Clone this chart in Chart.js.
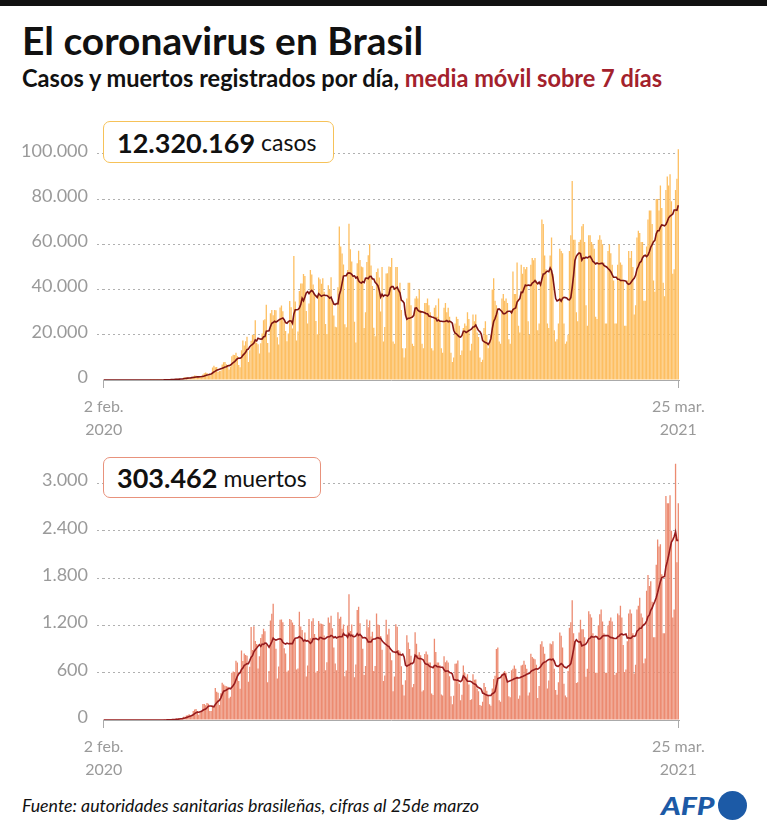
<!DOCTYPE html>
<html lang="es">
<head>
<meta charset="utf-8">
<title>El coronavirus en Brasil</title>
<script src="https://cdn.jsdelivr.net/npm/chart.js@4.4.0/dist/chart.umd.min.js"></script>
<style>
  html, body { margin: 0; padding: 0; background: #fff; }
  body { width: 767px; height: 827px; position: relative; overflow: hidden; font-family: Lato, "Open Sans", sans-serif; }
  .topbar { position: absolute; left: 0; top: 0; width: 767px; height: 6px; background: #111; }
  .fit { position: absolute; white-space: nowrap; transform-origin: 0 0; line-height: 1; }
  #title { left: 22px; top: 21px; font-size: 39px; font-weight: 700; color: #111; }
  #subtitle { left: 22px; top: 66px; font-size: 24px; font-weight: 700; color: #111; }
  #subtitle span { color: #a3212c; }
  #fuente { left: 22px; top: 796px; font-size: 18px; font-style: italic; color: #111; }
  .wrap { position: absolute; left: 0; width: 767px; }
  .total { position: absolute; left: 103px; background: #fff; border-radius: 7px; box-sizing: border-box;
           z-index: 2; display: flex; align-items: center; padding-left: 13px; white-space: nowrap; color: #111; font-size: 23px; }
  .total b { font-size: 27px; margin-right: 6px; }
  #totCasos { top: 121px; width: 231px; height: 42px; border: 1.5px solid #f6c259; }
  #totMuertos { top: 457px; width: 218px; height: 41px; border: 1.5px solid #e8927c; }
  #afp { left: 661px; top: 794px; font-size: 24px; font-weight: 900; font-style: italic; color: #1c5aa6; }
  #afpdot { position: absolute; left: 718px; top: 791px; width: 29px; height: 29px; border-radius: 50%; background: #1c5aa6; }
</style>
</head>
<body>
<div class="topbar"></div>
<div id="title" class="fit">El coronavirus en Brasil</div>
<div id="subtitle" class="fit">Casos y muertos registrados por día, <span>media móvil sobre 7 días</span></div>

<div class="wrap" style="top:125px;height:320px"><canvas id="casosChart"></canvas></div>
<div class="wrap" style="top:440px;height:345px"><canvas id="muertosChart"></canvas></div>

<div id="totCasos" class="total"><b id="numCasos"></b>casos</div>
<div id="totMuertos" class="total"><b id="numMuertos"></b>muertos</div>

<div id="fuente" class="fit">Fuente: autoridades sanitarias brasileñas, cifras al 25de marzo</div>
<div id="afp" class="fit">AFP</div>
<div id="afpdot"></div>

<script>
// casos diarios (miles), una semana por línea, desde el domingo 2 feb. 2020
var casosMil = [
  0,0,0,0,0,0,0,
  0,0,0,0,0,0,0,
  0,0,0,0,0,0,0,
  0,0,0,0,0,0,0,
  0,0,0,0,0,0,0.01,
  0.01,0.01,0.01,0.02,0.03,0.03,0.04,
  0.03,0.06,0.09,0.13,0.2,0.23,0.24,
  0.2,0.3,0.35,0.45,0.5,0.5,0.45,
  0.35,0.35,1.1,1.2,1.1,1.15,1.0,
  0.8,0.9,1.7,2.0,1.9,1.3,1.2,
  1.2,1.3,2.4,3.0,3.3,3.1,2.0,
  2.5,2.3,5.5,6.3,5.6,5.8,3.5,
  4.0,4.1,6.8,7.8,8.0,7.0,6.2,
  4.6,6.0,10.5,11.2,11.0,12.0,10.6,
  6.6,5.6,13.1,17.5,15.3,17.1,19.1,
  8.0,13.1,17.4,20.0,19.9,26.4,16.5,
  15.8,11.7,16.3,20.6,26.4,26.9,33.3,
  16.4,12.2,29.5,30.9,28.6,31.0,30.8,
  18.9,15.7,32.1,32.9,30.4,25.9,21.7,
  17.1,20.6,34.9,32.2,22.8,54.8,34.7,
  17.5,21.4,39.4,42.7,42.7,46.9,46.0,
  30.5,25.0,33.8,48.6,46.7,42.2,37.9,
  26.1,20.2,45.3,44.6,42.6,45.0,39.0,
  24.8,20.3,41.9,39.9,45.4,34.2,28.5,
  23.5,23.3,41.0,67.9,59.0,55.9,51.1,
  24.6,23.3,48.6,69.1,57.8,52.4,45.4,
  25.8,16.6,51.6,57.2,53.1,50.2,49.9,
  23.0,30.0,52.2,55.2,60.1,50.6,41.6,
  23.1,19.4,47.8,49.3,45.3,30.3,50.0,
  17.0,23.4,47.1,47.2,50.2,50.0,54.0,
  17,16,50,50,40,43,31,
  14,10,14,36,43,43,33,
  16,15,36,37,36,40,31,
  16,14,34,34,36,33,30,
  14,13,32,33,28,36,26,
  14,12,32,34,30,32,28,
  12,8,10,25,28,27,24,
  11,13,23,25,24,30,27,
  13,16,29,26,29,21,19,
  10,8,9,23,26,20,14,
  16,20,40,45,35,33,30,
  17,16,36,38,35,36,34,
  18,16,31,48,38,38,52,
  24,21,51,47,50,49,50,
  26,20,51,54,53,54,44,
  22,25,43,71,69,55,49,
  25,23,55,63,47,22,17,
  18,25,58,57,56,25,16,
  17,20,57,64,88,62,62,
  30,26,61,62,68,69,61,
  33,24,64,64,61,60,58,
  28,27,62,64,62,60,52,
  25,25,57,60,56,51,44,
  25,25,51,60,52,51,44,
  24,24,44,57,54,57,50,
  29,33,63,66,65,61,61,
  35,35,59,71,75,75,69,
  44,39,80,80,75,86,76,
  43,37,84,90,86,91,79,
  47,49,84,89,102
];

// muertos diarios, misma semana por línea
var muertos = [
  0,0,0,0,0,0,0,
  0,0,0,0,0,0,0,
  0,0,0,0,0,0,0,
  0,0,0,0,0,0,0,
  0,0,0,0,0,0,0,
  0,0,0,0,0,0,0,
  0,0,1,3,3,4,7,
  7,9,11,12,18,15,22,
  22,22,42,40,58,60,73,
  54,67,114,133,141,115,68,
  99,105,204,204,188,217,206,
  115,113,166,165,407,357,346,
  189,338,474,449,435,428,421,
  275,296,600,615,610,751,730,
  496,396,881,749,844,824,816,
  485,674,1179,888,1188,1001,965,
  653,807,1039,1086,1156,1124,956,
  480,623,1262,1349,1473,1005,904,
  525,679,1272,1274,1239,909,843,
  612,627,1282,1269,1238,1206,1022,
  641,654,1374,1185,1141,990,1109,
  552,692,1280,1038,1252,1290,1091,
  602,620,1254,1223,1220,1214,1071,
  631,733,1300,1233,1322,1163,921,
  716,632,1367,1284,1311,1156,1211,
  555,627,1200,1595,1129,1212,1088,
  541,703,1394,1437,1226,1079,905,
  572,684,1274,1175,1262,1060,1118,
  620,684,1352,1212,1204,1064,892,
  494,565,1271,1085,1156,855,758,
  366,553,1215,1184,888,870,682,
  447,310,504,1075,983,899,814,
  415,455,1113,967,829,858,821,
  363,377,836,869,831,729,729,
  335,317,1031,863,729,728,695,
  323,310,807,734,754,730,556,
  301,201,309,713,716,754,461,
  250,320,690,600,550,580,450,
  255,263,579,510,513,399,364,
  190,181,230,469,420,370,300,
  200,180,400,520,560,900,920,
  250,230,580,600,620,600,500,
  300,290,630,650,690,650,550,
  270,310,690,700,750,700,650,
  310,350,840,800,780,770,700,
  280,430,960,1000,930,840,740,
  400,500,970,960,1000,650,380,
  320,480,1110,1070,920,460,310,
  290,620,1170,1240,1520,1100,1000,
  470,480,1110,1270,1150,1150,1050,
  550,650,1380,1340,1300,1100,1050,
  600,600,1200,1340,1400,1250,1100,
  600,600,1200,1260,1300,1250,1050,
  570,600,1350,1330,1450,1300,950,
  610,640,1000,1350,1400,1350,1100,
  590,700,1400,1450,1550,1350,1300,
  720,780,1640,1840,1700,1760,1500,
  1050,1050,1970,2290,2200,2230,1850,
  1100,1100,2840,2750,2750,2850,2400,
  1300,1400,3250,2000,2750
];

var ticksCasos = [0, 20000, 40000, 60000, 80000, 100000];
var ticksMuertos = [0, 600, 1200, 1800, 2400, 3000];
var fechasEje = [['2 feb.', '2020'], ['25 mar.', '2021']];
var totalCasos = '12.320.169';
var totalMuertos = '303.462';

var casos = casosMil.map(function (v) { return v * 1000; });

var etiquetas = [];
for (var i = 0; i < casos.length; i++) {
  var d = new Date(2020, 1, 2 + i);
  etiquetas.push(d.toISOString().slice(0, 10));
}

function mediaMovil(arr) {
  return arr.map(function (v, i) {
    var s = arr.slice(Math.max(0, i - 6), i + 1);
    return s.reduce(function (a, b) { return a + b; }, 0) / s.length;
  });
}

function puntos(v) {
  return String(v).replace(/\B(?=(\d{3})+(?!\d))/g, '.');
}

function grafico(id, serie, colorBarra, colorLinea, ticksY, maxY) {
  var n = serie.length;
  return new Chart(document.getElementById(id), {
    type: 'bar',
    data: {
      labels: etiquetas,
      datasets: [
        { type: 'line', data: mediaMovil(serie), borderColor: colorLinea, borderWidth: 1.6,
          pointRadius: 0, tension: 0, order: 0 },
        { data: serie, backgroundColor: colorBarra, barPercentage: 0.95, categoryPercentage: 1, order: 1 }
      ]
    },
    options: {
      responsive: true,
      maintainAspectRatio: false,
      animation: false,
      layout: { padding: { top: 16, right: 88, left: 0, bottom: 0 } },
      plugins: { legend: { display: false }, tooltip: { enabled: false } },
      scales: {
        x: {
          grid: { display: true, drawOnChartArea: false, drawTicks: true, tickLength: 8, color: '#aaa', offset: false },
          border: { display: true, color: '#aaa', width: 1 },
          ticks: {
            autoSkip: false, maxRotation: 0, minRotation: 0, padding: 7, color: '#9a9a9a',
            font: { family: 'Lato', size: 16, lineHeight: 1.45 },
            callback: function (v, i) {
              if (i === 0) return fechasEje[0];
              if (i === n - 1) return fechasEje[1];
              return null;
            }
          },
          afterFit: function (s) { s.height = 65; }
        },
        y: {
          min: 0, max: maxY,
          afterBuildTicks: function (s) { s.ticks = ticksY.map(function (v) { return { value: v }; }); },
          afterFit: function (s) { s.width = 103; },
          grid: {
            color: function (c) { return c.tick && c.tick.value === 0 ? 'rgba(0,0,0,0)' : '#b0b0b0'; },
            lineWidth: 1, drawTicks: true, tickLength: 6, tickBorderDash: [2, 3]
          },
          border: { display: false, dash: [2, 3] },
          ticks: {
            color: '#9a9a9a', padding: 9, labelOffset: -3,
            font: { family: 'Lato', size: 18 },
            callback: function (v) { return puntos(v); }
          }
        }
      }
    }
  });
}

grafico('casosChart', casos, '#fdbf62', '#7d1414', ticksCasos, 104000);
grafico('muertosChart', muertos, '#ec8b71', '#961b1d', ticksMuertos, 3300);

document.getElementById('numCasos').textContent = totalCasos;
document.getElementById('numMuertos').textContent = totalMuertos;

function ajustar(id, ancho) {
  var el = document.getElementById(id);
  el.style.transform = 'scaleX(' + (ancho / el.offsetWidth) + ')';
}
ajustar('title', 401);
ajustar('subtitle', 640);
ajustar('fuente', 457);
ajustar('afp', 54);
</script>
</body>
</html>
